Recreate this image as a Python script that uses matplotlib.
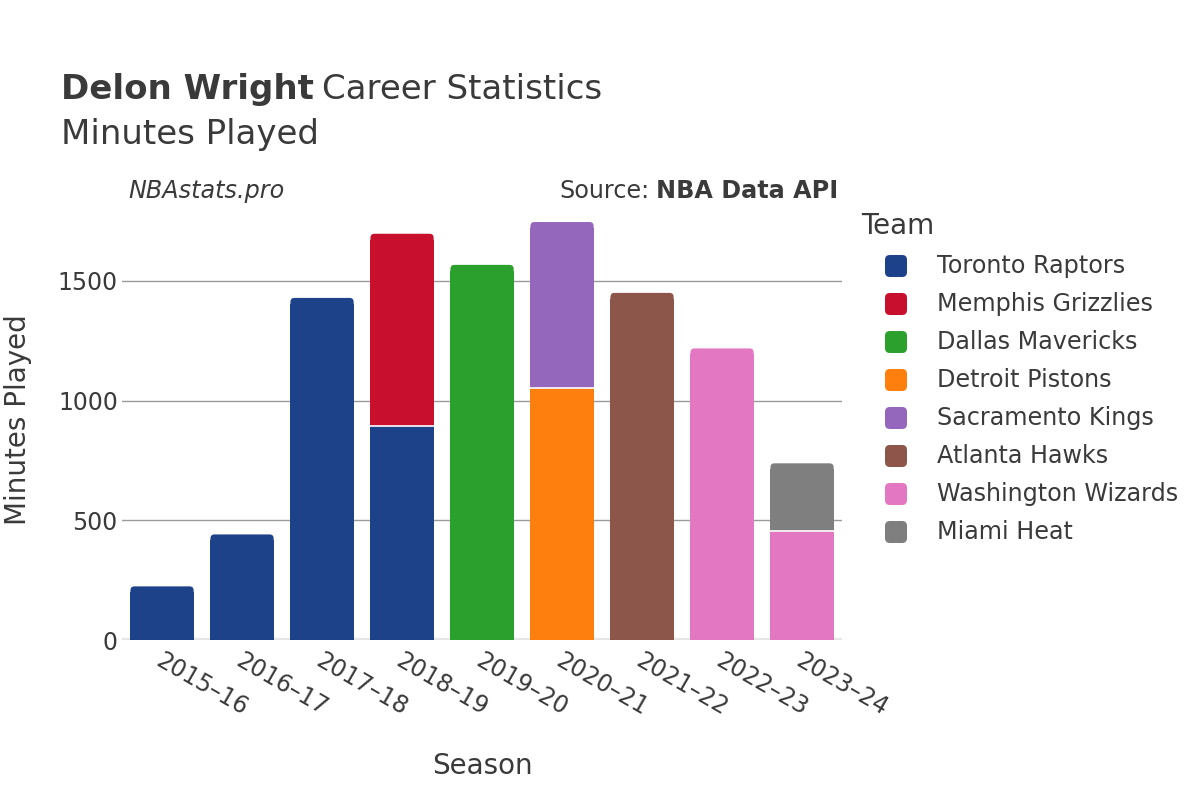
import numpy as np
import matplotlib
matplotlib.use("Agg")
import matplotlib.pyplot as plt
from matplotlib.patches import FancyBboxPatch, Rectangle

# data
seasons = ["2015–16", "2016–17", "2017–18", "2018–19", "2019–20",
           "2020–21", "2021–22", "2022–23", "2023–24"]
teams = ["Toronto Raptors", "Memphis Grizzlies", "Dallas Mavericks", "Detroit Pistons",
         "Sacramento Kings", "Atlanta Hawks", "Washington Wizards", "Miami Heat"]
team_colors = ["#1d428a", "#c8102e", "#2ca02c", "#ff7f0e",
               "#9467bd", "#8c564b", "#e377c2", "#7f7f7f"]
# minutes per team per season (stack order within a season follows team order)
toronto    = [224, 441, 1429, 896, 0, 0, 0, 0, 0]
memphis    = [0, 0, 0, 801, 0, 0, 0, 0, 0]
dallas     = [0, 0, 0, 0, 1567, 0, 0, 0, 0]
detroit    = [0, 0, 0, 0, 0, 1051, 0, 0, 0]
sacramento = [0, 0, 0, 0, 0, 695, 0, 0, 0]
atlanta    = [0, 0, 0, 0, 0, 0, 1450, 0, 0]
washington = [0, 0, 0, 0, 0, 0, 0, 1218, 454]
miami      = [0, 0, 0, 0, 0, 0, 0, 0, 284]
series = [toronto, memphis, dallas, detroit, sacramento, atlanta, washington, miami]

txt = "#3a3a3a"
plt.rcParams['font.family'] = ['DejaVu Sans']

fig = plt.figure(figsize=(12, 8), dpi=100)
ax = fig.add_axes([0.1017, 0.2, 0.6, 0.55])
ymax = 1838
ax.set_xlim(-0.5, len(seasons) - 0.5)
ax.set_ylim(0, ymax)

# pixel -> data scale for rounded corners
px_x = (len(seasons)) / (0.6 * 1200)
px_y = ymax / (0.55 * 800)
r_px = 4
width = 0.79

totals = np.sum(np.array(series, dtype=float), axis=0)
bottom = np.zeros(len(seasons))
for vals, col in zip(series, team_colors):
    for i, v in enumerate(vals):
        if v <= 0:
            continue
        x0 = i - width / 2
        b = bottom[i]
        if np.isclose(b + v, totals[i]):
            # top segment: rounded top corners
            box = FancyBboxPatch((x0, b), width, v,
                                 boxstyle="round,pad=0,rounding_size=%f" % (r_px * px_x),
                                 mutation_aspect=px_y / px_x,
                                 facecolor=col, edgecolor="none", zorder=3)
            ax.add_patch(box)
            ax.add_patch(Rectangle((x0, b), width, v - r_px * px_y * 1.5,
                                   facecolor=col, edgecolor="none", zorder=3))
        else:
            ax.add_patch(Rectangle((x0, b), width, v, facecolor=col,
                                   edgecolor="none", zorder=3))
        if b > 0:
            ax.plot([x0, x0 + width], [b, b], color="white", linewidth=1.2, zorder=4)
        bottom[i] += v

ax.set_yticks([0, 500, 1000, 1500])
ax.set_yticklabels(["0", "500", "1000", "1500"], fontsize=17, color=txt)
ax.yaxis.grid(True, color="#9a9a9a", linewidth=1, zorder=0)
ax.tick_params(axis="y", length=0, pad=3)
ax.tick_params(axis="x", length=0, pad=6)
x = np.arange(len(seasons))
ax.set_xticks(x + 0.02)
ax.set_xticklabels(seasons, fontsize=17, color=txt, rotation=-30,
                   ha="left", va="top", rotation_mode="anchor")
for s in ax.spines.values():
    s.set_visible(False)
ax.axhline(0, color="#e6e6e6", linewidth=3, zorder=2)

ax.set_xlabel("Season", fontsize=20, color=txt)
ax.set_ylabel("Minutes Played", fontsize=20, color=txt)
ax.xaxis.set_label_coords(0.5, -0.255)
ax.yaxis.set_label_coords(-0.125, 0.5)

# titles
t1 = fig.text(61 / 1200, 1 - 99 / 800, "Delon Wright", fontsize=24.5,
              fontweight="bold", color=txt, va="baseline")
fig.canvas.draw()
bb = t1.get_window_extent()
fig.text(bb.x1 / 1200 + 0.007, 1 - 99 / 800, "Career Statistics", fontsize=24.5,
         color=txt, va="baseline")
fig.text(61 / 1200, 1 - 144 / 800, "Minutes Played", fontsize=24.5,
         color=txt, va="baseline")

fig.text(128 / 1200, 1 - 198 / 800, "NBAstats.pro", fontsize=17.2,
         style="italic", color=txt, va="baseline")
s2 = fig.text(838 / 1200, 1 - 198 / 800, "NBA Data API", fontsize=17.2,
              fontweight="bold", color=txt, va="baseline", ha="right")
fig.canvas.draw()
bb2 = s2.get_window_extent()
fig.text(bb2.x0 / 1200 - 0.005, 1 - 198 / 800, "Source:", fontsize=17.2,
         color=txt, va="baseline", ha="right")

# legend
fig.text(861 / 1200, 1 - 226 / 800, "Team", fontsize=20, color=txt, va="center")
for i, (name, col) in enumerate(zip(teams, team_colors)):
    yc = 266 + i * 38
    box = FancyBboxPatch((885 / 1200, 1 - (yc + 11) / 800), 22 / 1200, 22 / 800,
                         boxstyle="round,pad=0,rounding_size=0.004",
                         transform=fig.transFigure, facecolor=col,
                         edgecolor="none", mutation_aspect=1.5)
    fig.patches.append(box)
    fig.text(937 / 1200, 1 - yc / 800, name, fontsize=17.2, color=txt, va="center")

fig.savefig("out.png", dpi=100, facecolor="white")
